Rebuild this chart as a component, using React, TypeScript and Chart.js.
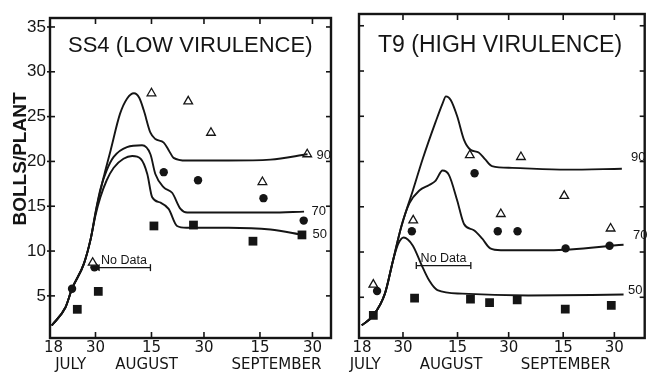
import React, { useEffect, useRef } from "react";
import { Chart, registerables } from "chart.js";
Chart.register(...registerables);

const FONT = "'Liberation Sans', 'DejaVu Sans', sans-serif";
const WIDE = "'DejaVu Sans', 'Liberation Sans', sans-serif";
const INK = "#151515";

// shared axis data
const tickDays = [0, 12, 28, 43, 59, 74];
const tickLabels = ["18", "30", "15", "30", "15", "30"];
const monthNames = ["JULY", "AUGUST", "SEPTEMBER"];
const yTicks = [5, 10, 15, 20, 25, 30, 35];
const curveNames = ["90", "70", "50"];

// ---------- SS4 (low virulence) ----------
const ss4TriDays = [11.2, 28, 38.5, 45, 59.7, 72.5];
const ss4TriVals = [8.7, 27.6, 26.7, 23.2, 17.7, 20.8];
const ss4CirDays = [5.3, 11.7, 31.5, 41.3, 60, 71.5];
const ss4CirVals = [5.8, 8.2, 18.8, 17.9, 15.9, 13.4];
const ss4SqDays = [6.8, 12.8, 28.7, 40, 57, 71];
const ss4SqVals = [3.5, 5.5, 12.8, 12.9, 11.1, 11.8];

const ss4C90Days = [-0.5, 3.4, 5.3, 8.7, 10.6, 12.4, 14.5, 16.3, 19, 21, 23, 24.5, 25.8, 27.7, 29.1, 31.5, 33, 34.3, 38, 50, 62, 72.6];
const ss4C90Vals = [1.7, 3.7, 5.8, 8.6, 11.3, 15, 18.5, 21.2, 25.3, 27, 27.6, 27.1, 25.7, 23.2, 22.5, 22.1, 21.2, 20.4, 20.1, 20.1, 20.2, 20.8];
const ss4C70Days = [-0.5, 3.4, 5.3, 8.7, 10.6, 12, 13.4, 15.2, 17.2, 21, 25.3, 27.7, 29.1, 31.5, 33.9, 36.3, 38.2, 50, 62, 71.6];
const ss4C70Vals = [1.7, 3.7, 5.8, 8.6, 11.3, 14.3, 16.9, 19, 20.5, 21.6, 21.8, 20.8, 18.6, 17.1, 16.5, 14.7, 14.3, 14.3, 14.3, 14.4];
const ss4C50Days = [-0.5, 3.4, 5.3, 8.7, 10.6, 12, 13.4, 15.2, 17.2, 20, 22.5, 24.9, 26.8, 28.2, 30.6, 32.9, 35.3, 38, 50, 62, 71.4];
const ss4C50Vals = [1.7, 3.7, 5.8, 8.6, 11.3, 14, 16, 17.9, 19.3, 20.3, 20.6, 20.3, 18.6, 16, 15.4, 14.7, 12.8, 12.6, 12.6, 12.4, 11.8];
const ss4NoDataDays = [12.6, 27.7];
const ss4NoDataVal = 8.15;
const ss4LabelDays = [74, 72.6, 72.9];
const ss4LabelVals = [20.7, 14.4, 11.8];

// ---------- T9 (high virulence) ----------
const t9TriDays = [3.3, 15, 31.6, 40.7, 46.6, 59.3, 72.9];
const t9TriVals = [6.4, 13.5, 20.7, 14.2, 20.5, 16.2, 12.6];
const t9CirDays = [4.4, 14.6, 33, 39.8, 45.6, 59.7, 72.6];
const t9CirVals = [5.7, 12.3, 18.7, 12.3, 12.3, 10.4, 10.7];
const t9SqDays = [3.3, 15.4, 31.8, 37.4, 45.5, 59.6, 73.1];
const t9SqVals = [3.0, 4.9, 4.8, 4.4, 4.7, 3.7, 4.1];

const t9C90Days = [-0.1, 3.3, 6.7, 9.1, 11.5, 14.9, 17.8, 21.6, 23.6, 24.6, 26, 27.9, 29.9, 31.8, 34.2, 36.2, 38.1, 44, 60, 76.2];
const t9C90Vals = [1.9, 3.0, 5.4, 9.1, 12.8, 16.8, 20.3, 24.4, 26.4, 27.2, 26.8, 25, 22.4, 21.3, 21.0, 20.2, 19.5, 19.3, 19.1, 19.2];
const t9C70Days = [-0.1, 3.3, 6.7, 9.1, 11.5, 13.9, 16.8, 19.7, 21.6, 23.6, 25.5, 27.9, 29.9, 32.8, 35.2, 37.6, 40.7, 55, 76.7];
const t9C70Vals = [1.9, 3.0, 5.4, 9.1, 12.8, 15.4, 16.8, 17.4, 17.9, 19.0, 18.5, 15.7, 13.1, 12.4, 11.5, 10.4, 10.2, 10.2, 10.8];
const t9C50Days = [-0.1, 3.3, 6.7, 9.1, 10.6, 12.2, 14.9, 17.3, 19.7, 22.1, 29.4, 48.7, 76.7];
const t9C50Vals = [1.9, 3.0, 5.4, 9.1, 10.9, 11.6, 10.7, 8.7, 6.85, 5.8, 5.4, 5.2, 5.3];
const t9NoDataDays = [15.9, 31.9];
const t9NoDataVal = 8.5;
const t9LabelDays = [77.7, 78.3, 76.8];
const t9LabelVals = [20.4, 11.8, 5.8];

const pts = (d: number[], v: number[]) => d.map((x, i) => ({ x, y: v[i] }));

type PanelCfg = {
  title: string;
  titleX: number;
  titleSize: number;
  canvasLeft: number;
  width: number;
  padTop: number;
  padRight: number;
  yAxisW: number;
  xAxisH: number;
  xMin: number;
  xMax: number;
  yMin: number;
  yMax: number;
  yLabels: boolean;
  monthDays: number[];
  curves: { d: number[]; v: number[] }[];
  tri: { d: number[]; v: number[] };
  cir: { d: number[]; v: number[] };
  sq: { d: number[]; v: number[] };
  noDataDays: number[];
  noDataVal: number;
  noDataArrow: boolean;
  labelDays: number[];
  labelVals: number[];
};

const makeDecor = (cfg: PanelCfg) => ({
  id: "decor",
  afterDraw(chart: any) {
    const { ctx, chartArea: a, scales } = chart;
    const x = scales.x;
    const y = scales.y;
    ctx.save();
    ctx.strokeStyle = INK;
    ctx.fillStyle = INK;
    ctx.lineWidth = 2.4;
    ctx.strokeRect(a.left, a.top, a.right - a.left, a.bottom - a.top);
    ctx.lineWidth = 1.6;
    const seg = (x1: number, y1: number, x2: number, y2: number) => {
      ctx.beginPath();
      ctx.moveTo(x1, y1);
      ctx.lineTo(x2, y2);
      ctx.stroke();
    };
    tickDays.forEach((d, i) => {
      if (i === 0) return;
      const px = x.getPixelForValue(d);
      seg(px, a.bottom, px, a.bottom - 6);
      seg(px, a.top, px, a.top + 6);
    });
    yTicks.forEach((v) => {
      const py = y.getPixelForValue(v);
      seg(a.left - (cfg.yLabels ? 3 : 0), py, a.left + 5, py);
      seg(a.right, py, a.right - 5, py);
    });
    // month names
    ctx.font = `15px ${WIDE}`;
    ctx.textAlign = "center";
    ctx.textBaseline = "alphabetic";
    monthNames.forEach((m, i) => {
      ctx.fillText(m, x.getPixelForValue(cfg.monthDays[i]), 369);
    });
    // title
    ctx.font = `${cfg.titleSize}px ${FONT}`;
    ctx.textAlign = "left";
    ctx.fillText(cfg.title, cfg.titleX, 52);
    // y title
    if (cfg.yLabels) {
      ctx.save();
      ctx.translate(21, 159);
      ctx.rotate(-Math.PI / 2);
      ctx.font = `bold 19px ${FONT}`;
      ctx.textAlign = "center";
      ctx.textBaseline = "middle";
      ctx.fillText("BOLLS/PLANT", 0, 0);
      ctx.restore();
    }
    // curve labels
    ctx.font = `13px ${FONT}`;
    ctx.textAlign = "left";
    ctx.textBaseline = "middle";
    curveNames.forEach((n, i) => {
      ctx.fillText(n, x.getPixelForValue(cfg.labelDays[i]) + 4, y.getPixelForValue(cfg.labelVals[i]));
    });
    // No Data
    ctx.font = `12.5px ${FONT}`;
    ctx.textAlign = "center";
    ctx.textBaseline = "alphabetic";
    const cx = (x.getPixelForValue(cfg.noDataDays[0]) + x.getPixelForValue(cfg.noDataDays[1])) / 2;
    ctx.fillText("No Data", cx, y.getPixelForValue(cfg.noDataVal) - 4);
    ctx.restore();
  },
});

function Panel({ cfg }: { cfg: PanelCfg }) {
  const ref = useRef<HTMLCanvasElement>(null);
  useEffect(() => {
    const curveDs = cfg.curves.map((c) => ({
      type: "line" as const,
      data: pts(c.d, c.v),
      borderColor: INK,
      borderWidth: 1.9,
      pointRadius: 0,
      fill: false,
      cubicInterpolationMode: "monotone" as const,
    }));
    const markerBase = { showLine: false, borderColor: INK };
    const datasets: any[] = [
      ...curveDs,
      {
        data: pts(cfg.noDataDays, cfg.noDataDays.map(() => cfg.noDataVal)),
        borderColor: INK,
        borderWidth: 1.3,
        backgroundColor: INK,
        pointStyle: [cfg.noDataArrow ? "triangle" : "line", "line"],
        pointRotation: [cfg.noDataArrow ? -90 : 90, 90],
        pointRadius: [cfg.noDataArrow ? 3 : 3.5, 3.5],
        pointBorderWidth: 1.3,
      },
      {
        ...markerBase,
        data: pts(cfg.tri.d, cfg.tri.v),
        pointStyle: "triangle",
        pointRadius: 5,
        pointBackgroundColor: "#ffffff",
        pointBorderWidth: 1.3,
      },
      {
        ...markerBase,
        data: pts(cfg.cir.d, cfg.cir.v),
        pointStyle: "circle",
        pointRadius: 4.2,
        pointBackgroundColor: INK,
        pointBorderWidth: 0,
      },
      {
        ...markerBase,
        data: pts(cfg.sq.d, cfg.sq.v),
        pointStyle: "rect",
        pointRadius: 6.2,
        pointBackgroundColor: INK,
        pointBorderWidth: 0,
      },
    ];
    const chart = new Chart(ref.current!, {
      type: "line",
      data: { datasets },
      options: {
        animation: false,
        responsive: false,
        devicePixelRatio: 1,
        layout: { padding: { top: cfg.padTop, right: cfg.padRight, left: 0, bottom: 0 } },
        plugins: { legend: { display: false }, tooltip: { enabled: false } },
        scales: {
          x: {
            type: "linear",
            min: cfg.xMin,
            max: cfg.xMax,
            grid: { display: false, drawTicks: false },
            border: { display: false },
            afterBuildTicks: (s: any) => {
              s.ticks = tickDays.map((v) => ({ value: v }));
            },
            afterFit: (s: any) => {
              s.height = cfg.xAxisH;
            },
            ticks: {
              autoSkip: false,
              maxRotation: 0,
              padding: 1,
              color: INK,
              font: { family: WIDE, size: 15 },
              callback: (_v: any, i: number) => tickLabels[i],
            },
          },
          y: {
            type: "linear",
            min: cfg.yMin,
            max: cfg.yMax,
            grid: { display: false, drawTicks: false },
            border: { display: false },
            afterBuildTicks: (s: any) => {
              s.ticks = yTicks.map((v) => ({ value: v }));
            },
            afterFit: (s: any) => {
              s.width = cfg.yAxisW;
            },
            ticks: {
              display: cfg.yLabels,
              padding: 4,
              color: INK,
              font: { family: FONT, size: 17 },
              callback: (v: any) => String(v),
            },
          },
        },
      } as any,
      plugins: [makeDecor(cfg)],
    });
    return () => chart.destroy();
  }, []);
  return (
    <canvas
      ref={ref}
      width={cfg.width}
      height={372}
      style={{ position: "absolute", left: cfg.canvasLeft, top: 0, width: cfg.width, height: 372 }}
    />
  );
}

const ss4: PanelCfg = {
  title: "SS4 (LOW VIRULENCE)",
  titleX: 68,
  titleSize: 22,
  canvasLeft: 0,
  width: 338,
  padTop: 18,
  padRight: 7,
  yAxisW: 50,
  xAxisH: 34,
  xMin: -1,
  xMax: 79.3,
  yMin: 0.3,
  yMax: 36.0,
  yLabels: true,
  monthDays: [4.9, 26.6, 63.7],
  curves: [
    { d: ss4C90Days, v: ss4C90Vals },
    { d: ss4C70Days, v: ss4C70Vals },
    { d: ss4C50Days, v: ss4C50Vals },
  ],
  tri: { d: ss4TriDays, v: ss4TriVals },
  cir: { d: ss4CirDays, v: ss4CirVals },
  sq: { d: ss4SqDays, v: ss4SqVals },
  noDataDays: ss4NoDataDays,
  noDataVal: ss4NoDataVal,
  noDataArrow: true,
  labelDays: ss4LabelDays,
  labelVals: ss4LabelVals,
};

const t9: PanelCfg = {
  title: "T9 (HIGH VIRULENCE)",
  titleX: 42,
  titleSize: 23,
  canvasLeft: 336,
  width: 315,
  padTop: 14,
  padRight: 3,
  yAxisW: 23,
  xAxisH: 34,
  xMin: -0.9,
  xMax: 82.9,
  yMin: 0.5,
  yMax: 36.3,
  yLabels: false,
  monthDays: [0.9, 26.1, 59.7],
  curves: [
    { d: t9C90Days, v: t9C90Vals },
    { d: t9C70Days, v: t9C70Vals },
    { d: t9C50Days, v: t9C50Vals },
  ],
  tri: { d: t9TriDays, v: t9TriVals },
  cir: { d: t9CirDays, v: t9CirVals },
  sq: { d: t9SqDays, v: t9SqVals },
  noDataDays: t9NoDataDays,
  noDataVal: t9NoDataVal,
  noDataArrow: false,
  labelDays: t9LabelDays,
  labelVals: t9LabelVals,
};

export default function App() {
  return (
    <div style={{ position: "absolute", left: 0, top: 0, width: 651, height: 372, background: "#fff" }}>
      <Panel cfg={ss4} />
      <Panel cfg={t9} />
    </div>
  );
}
